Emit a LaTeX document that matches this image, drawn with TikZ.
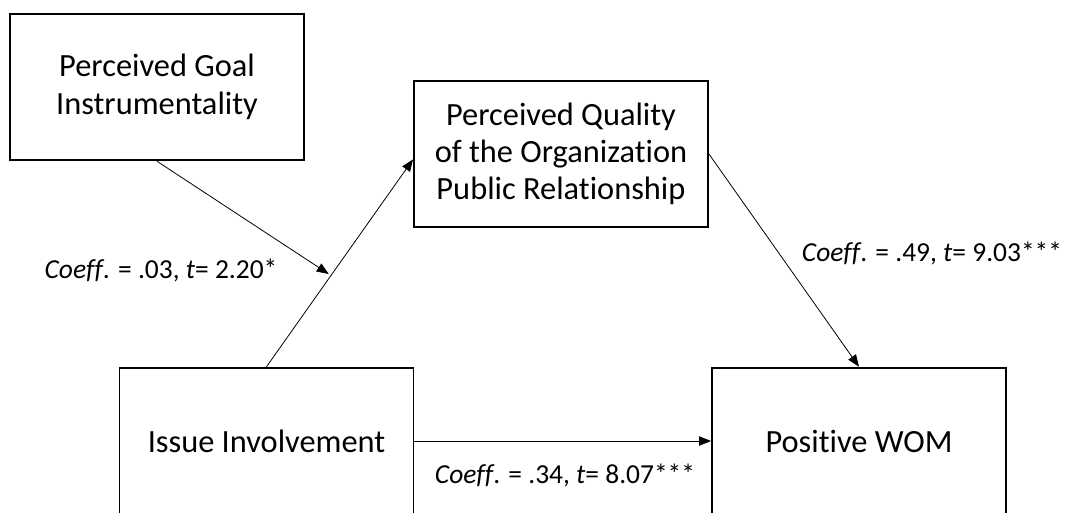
\documentclass[tikz,border=0pt]{standalone}
\usepackage{fontspec}
\setmainfont{Carlito}[Ligatures=NoCommon]
\usepackage{tikz}
\usetikzlibrary{arrows.meta}

\begin{document}
\begin{tikzpicture}[x=0.75pt,y=-0.75pt,
	varbox/.style={draw,line width=1.4pt,minimum width=220.5pt,minimum height=110pt,align=center,font=\fontsize{24.3}{28}\selectfont},
	path/.style={line width=0.6pt,-{Triangle[length=9pt,width=7pt]}},
	coef/.style={font=\fontsize{20.6}{24}\selectfont}]
			\clip (0,0) rectangle (1066,512);
			\node[varbox] (goal) at (157,87) {Perceived Goal\\Instrumentality};
			\node[varbox] (opr) at (561,154) {Perceived Quality\\of the Organization\\Public Relationship};
			\node[varbox] (issue) at (266.5,441) {Issue Involvement};
			\node[varbox] (wom) at (859,441) {Positive WOM};
			\draw[path] (issue.north) -- coordinate[pos=0.44] (mod) ([yshift=-4pt]opr.west);
			\draw[path,shorten >=2pt] (goal.south) -- (mod);
			\draw[path] (opr.east) -- (wom.north);
			\draw[path] (issue.east) -- (wom.west);
			\node[coef] (c1) at (161,270) {\textit{Coeff}. = .03, \textit{t}= 2.20*};
			\node[coef] (c2) at (932,253) {\textit{Coeff}. = .49, \textit{t}= 9.03***};
			\node[coef] (c3) at (565,475) {\textit{Coeff}. = .34, \textit{t}= 8.07***};
		\end{tikzpicture}
\end{document}
